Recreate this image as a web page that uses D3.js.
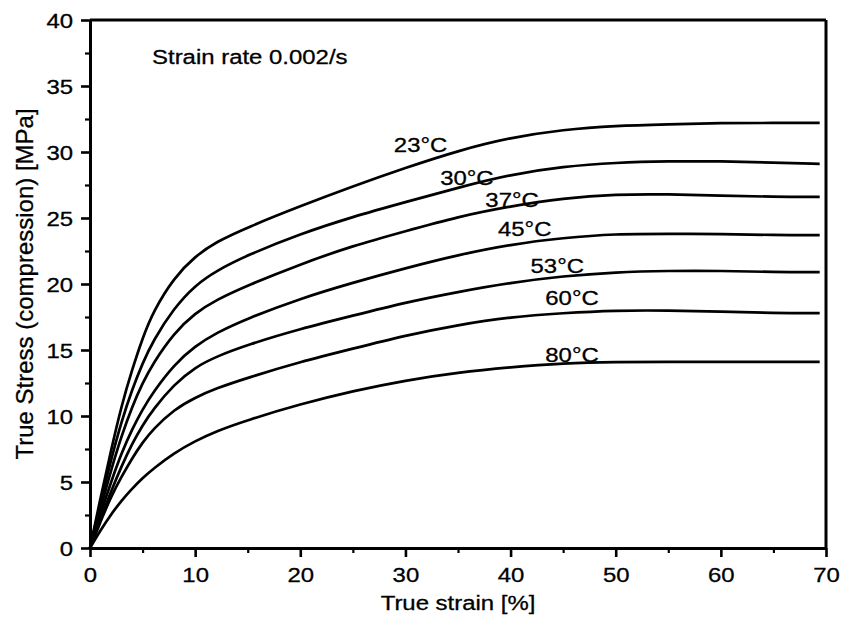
<!DOCTYPE html>
<html>
<head>
<meta charset="utf-8">
<script src="https://cdn.jsdelivr.net/npm/d3@7"></script>
<style>
body { margin: 0; background: #fff; }
text { font-family: "Liberation Sans", Arial, sans-serif; fill: #000; }
</style>
</head>
<body>
<script>
// strain in %, stress in MPa
var strain = [0, 1, 2, 3, 4, 5, 6, 8, 10, 12, 15, 20, 25, 30, 35, 40, 45, 50, 55, 60, 65, 69.4];

var s23 = [0, 3.8, 7.4, 10.8, 13.5, 15.9, 17.9, 20.5, 22.1, 23.2, 24.3, 25.9, 27.4, 28.8, 30.1, 31.1, 31.7, 32.0, 32.1, 32.2, 32.2, 32.2];
var s30 = [0, 3.4, 6.7, 9.6, 12.0, 14.0, 15.7, 18.2, 19.9, 21.0, 22.2, 23.8, 25.1, 26.2, 27.3, 28.3, 28.9, 29.2, 29.3, 29.3, 29.2, 29.1];
var s37 = [0, 3.0, 5.9, 8.5, 10.7, 12.5, 14.0, 16.3, 17.8, 18.8, 19.9, 21.5, 22.9, 24.0, 25.1, 25.9, 26.5, 26.8, 26.8, 26.7, 26.6, 26.6];
var s45 = [0, 2.6, 5.0, 7.2, 9.0, 10.5, 11.8, 13.9, 15.3, 16.3, 17.4, 18.9, 20.1, 21.2, 22.2, 23.0, 23.5, 23.8, 23.8, 23.8, 23.7, 23.7];
var s53 = [0, 2.2, 4.3, 6.2, 7.9, 9.3, 10.5, 12.4, 13.7, 14.5, 15.4, 16.6, 17.6, 18.6, 19.4, 20.1, 20.6, 20.9, 21.0, 21.0, 20.9, 20.9];
var s60 = [0, 2.0, 3.9, 5.4, 6.8, 8.0, 9.0, 10.5, 11.4, 12.1, 12.9, 14.1, 15.1, 16.1, 16.9, 17.5, 17.8, 18.0, 18.0, 17.9, 17.8, 17.8];
var s80 = [0, 1.35, 2.55, 3.6, 4.5, 5.3, 6.0, 7.2, 8.1, 8.85, 9.7, 10.9, 11.9, 12.7, 13.3, 13.7, 14.0, 14.1, 14.1, 14.1, 14.1, 14.1];

var series = [s23, s30, s37, s45, s53, s60, s80];
var tempLabels = ["23°C", "30°C", "37°C", "45°C", "53°C", "60°C", "80°C"];
// where each label sits (strain %, stress MPa)
var labelX = [28.9, 33.3, 37.6, 38.8, 41.9, 43.3, 43.3];
var labelY = [30.0, 27.5, 25.8, 23.6, 20.8, 18.4, 14.1];

var xTicks = [0, 10, 20, 30, 40, 50, 60, 70];
var xMinor = [5, 15, 25, 35, 45, 55, 65];
var yTicks = [0, 5, 10, 15, 20, 25, 30, 35, 40];
var yMinor = [2.5, 7.5, 12.5, 17.5, 22.5, 27.5, 32.5, 37.5];

var w = 843;
var h = 623;
var sx = 1.14; // text in the picture is a bit wide

var svg = d3.select("body")
	.append("svg")
	.attr("width", w)
	.attr("height", h);

var x = d3.scaleLinear().domain([0, 70]).range([90, 826]);
var y = d3.scaleLinear().domain([0, 40]).range([548, 20]);

function wide(sel, px, py) {
	sel.attr("transform", "translate(" + px + "," + py + ") scale(" + sx + ",1)");
}

// curves
var line = d3.line()
	.x(function(d, i) { return x(strain[i]); })
	.y(function(d) { return y(d); })
	.curve(d3.curveBasis);

svg.selectAll("path.curve")
	.data(series)
	.enter()
	.append("path")
	.attr("class", "curve")
	.attr("d", line)
	.attr("fill", "none")
	.attr("stroke", "#000")
	.attr("stroke-width", 2.7);

// frame: top and right
svg.append("line")
	.attr("x1", x(0)).attr("x2", x(70))
	.attr("y1", y(40)).attr("y2", y(40))
	.attr("stroke", "#000").attr("stroke-width", 3);
svg.append("line")
	.attr("x1", x(70)).attr("x2", x(70))
	.attr("y1", y(40)).attr("y2", y(0))
	.attr("stroke", "#000").attr("stroke-width", 3);

// minor ticks
svg.append("g")
	.attr("transform", "translate(0," + y(0) + ")")
	.call(d3.axisBottom(x).tickValues(xMinor).tickSize(5).tickSizeOuter(0).tickFormat(""))
	.call(function(g) { g.select(".domain").remove(); })
	.selectAll("line").attr("stroke-width", 2.2);
svg.append("g")
	.attr("transform", "translate(" + x(0) + ",0)")
	.call(d3.axisLeft(y).tickValues(yMinor).tickSize(5).tickSizeOuter(0).tickFormat(""))
	.call(function(g) { g.select(".domain").remove(); })
	.selectAll("line").attr("stroke-width", 2.2);

// major axes
var xAxis = svg.append("g")
	.attr("transform", "translate(0," + y(0) + ")")
	.call(d3.axisBottom(x).tickValues(xTicks).tickSize(9).tickSizeOuter(0));
var yAxis = svg.append("g")
	.attr("transform", "translate(" + x(0) + ",0)")
	.call(d3.axisLeft(y).tickValues(yTicks).tickSize(9).tickSizeOuter(0));

[xAxis, yAxis].forEach(function(a) {
	a.select(".domain").attr("stroke-width", 3);
	a.selectAll(".tick line").attr("stroke-width", 2.6);
	a.selectAll("text")
		.attr("font-size", "21px")
		.attr("font-family", "'Liberation Sans', Arial, sans-serif")
		.attr("fill", "#000");
});

xAxis.selectAll("text")
	.attr("y", null).attr("dy", null)
	.each(function() { wide(d3.select(this), 0, 34); });
yAxis.selectAll("text")
	.attr("x", null).attr("dy", null)
	.each(function() { wide(d3.select(this), -17, 7.5); });

// axis titles
svg.append("text")
	.text("True strain [%]")
	.attr("text-anchor", "middle")
	.attr("font-size", "21px")
	.call(wide, (x(0) + x(70)) / 2, 610);

svg.append("text")
	.text("True Stress (compression) [MPa]")
	.attr("text-anchor", "middle")
	.attr("font-size", "24px")
	.attr("transform", "translate(33," + (y(0) + y(40)) / 2 + ") rotate(-90)");

// annotations
svg.append("text")
	.text("Strain rate 0.002/s")
	.attr("font-size", "21px")
	.call(wide, x(5.9), y(36.7));

svg.selectAll("text.temp")
	.data(tempLabels)
	.enter()
	.append("text")
	.attr("class", "temp")
	.text(function(d) { return d; })
	.attr("font-size", "21px")
	.each(function(d, i) { wide(d3.select(this), x(labelX[i]), y(labelY[i])); });

svg.selectAll("text")
	.attr("stroke", "#000")
	.attr("stroke-width", 0.3);
</script>
</body>
</html>
